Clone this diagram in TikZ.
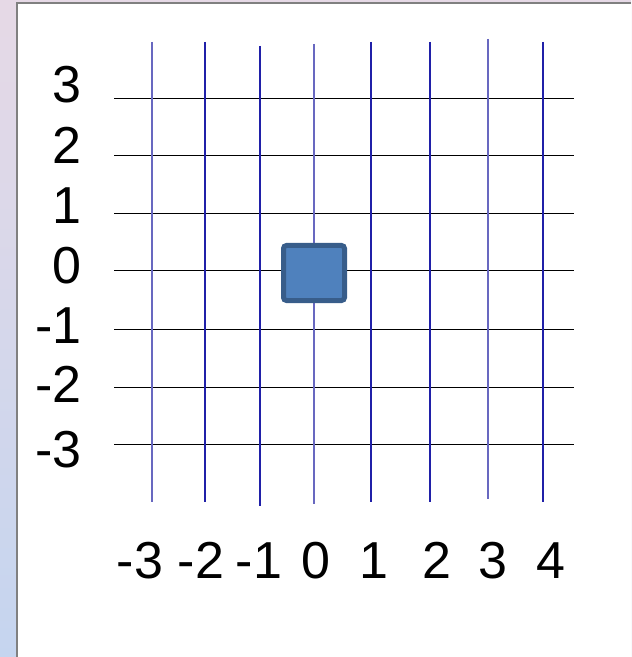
\documentclass[tikz,border=0pt]{standalone}
\usepackage{fontspec}
\setmainfont{Liberation Sans}
\usepackage{xcolor}
\usetikzlibrary{positioning}

\definecolor{gridlight}{RGB}{104,104,192}
\definecolor{griddark}{RGB}{32,32,168}
\definecolor{boxfill}{RGB}{79,129,189}
\definecolor{boxedge}{RGB}{56,93,138}

\tikzset{
  lbl/.style={font=\fontsize{26}{30}\selectfont,inner sep=0pt},
  hline/.style={black,line width=0.5pt},
}

\begin{document}
\begin{tikzpicture}[x=0.5pt,y=-0.5pt]
% backdrop
\useasboundingbox (0,0) rectangle (631,657);
\shade[top color={rgb,255:red,230;green,217;blue,230},bottom color={rgb,255:red,197;green,213;blue,239}] (0,0) rectangle (631,657);
\fill[white] (17,3) rectangle (631,657);
\draw[gray,line width=1pt] (17,657) -- (17,3) -- (631,3);

% horizontal grid lines and y labels
\foreach \k/\y/\c in {3/99/103,2/156/164,1/214/224,0/271/284,-1/329/343,-2/387/402,-3/444/467}
  {\draw[hline] (114,\y) -- (574,\y);
   \node[lbl,anchor=base east] (y\k) at (82,\c) {\k};}

% vertical grid lines
\foreach \x/\t/\b/\col in {152/42/502/gridlight,205/42/502/griddark,260/46/506/griddark,
    314/44/504/gridlight,371/42/502/griddark,430/42/502/griddark,488/39/499/gridlight,543/42/502/griddark}
  \draw[\col,line width=0.75pt] (\x,\t) -- (\x,\b);

% x labels
\foreach \k/\x in {-3/140,-2/201,-1/259,0/316,1/374,2/437,3/493,4/551}
  \node[lbl,anchor=base] (x\k) at (\x,578) {\k};

% the square
\draw[boxedge,fill=boxfill,line width=2.5pt,rounded corners=1.5pt] (283.5,245.5) rectangle (344.5,300.5);
\end{tikzpicture}
\end{document}
